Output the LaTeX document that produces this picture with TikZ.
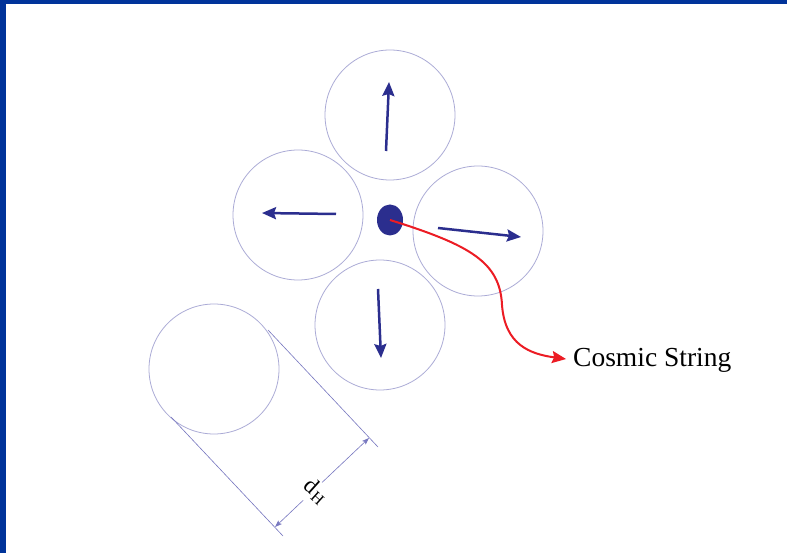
\documentclass[tikz,border=0pt]{standalone}
\usepackage{fontspec}
\setmainfont{Liberation Serif}
\usetikzlibrary{arrows.meta,shapes.geometric,calc}
\definecolor{frame}{HTML}{00339A}
\definecolor{ring}{HTML}{ABABD6}
\definecolor{navy}{HTML}{2B2E8E}
\definecolor{strred}{HTML}{EC1C24}
\definecolor{dimc}{HTML}{7777C0}
\tikzset{
  cell/.style={circle, draw=ring, line width=0.8pt, minimum size=130pt, inner sep=0pt},
  vec/.style={draw=navy, line width=2.5pt, -{Stealth[length=14pt,width=12pt,inset=2pt]}},
  dimline/.style={draw=dimc, line width=0.6pt},
  dimarrow/.style={draw=dimc, line width=0.6pt, -{Stealth[length=7pt,width=5pt,inset=1.5pt]}},
}
\begin{document}
\begin{tikzpicture}[x=1pt,y=-1pt]
\useasboundingbox (0,0) rectangle (787,553);
\fill[white] (0,0) rectangle (787,553);
\fill[frame] (0,0) rectangle (787,4);
\fill[frame] (0,0) rectangle (6,553);

% cells
\node[cell] (top) at (390,115) {};
\node[cell] (left) at (298,215) {};
\node[cell] (right) at (478,231) {};
\node[cell] (bottom) at (380,325) {};
\node[cell] (horizon) at (214,369) {};

% string
\node[ellipse, fill=navy, minimum width=26pt, minimum height=31pt, inner sep=0pt] (dot) at (390,220) {};
\node[anchor=west, font=\fontsize{27.5}{30}\selectfont, inner sep=0pt] (label) at (573,360) {Cosmic String};

% velocity arrows
\coordinate (ta) at (386,151); \coordinate (tb) at (389,82);
\coordinate (la) at (336,214); \coordinate (lb) at (262,213);
\coordinate (ra) at (438,228); \coordinate (rb) at (521,237);
\coordinate (ba) at (378,289); \coordinate (bb) at (381,358);
\draw[vec] (ta) -- (tb);
\draw[vec] (la) -- (lb);
\draw[vec] (ra) -- (rb);
\draw[vec] (ba) -- (bb);

% red connector
\draw[strred, line width=2pt, shorten >=7pt, -{Stealth[length=14pt,width=12pt,inset=2pt]}]
  (dot.center) .. controls (470,245) and (500,262) .. (502,305)
  .. controls (505,345) and (530,354) .. (label.west);

% dimension
\coordinate (t1a) at (268,330); \coordinate (t1b) at (378,447);
\coordinate (t2a) at (171,417); \coordinate (t2b) at (283,536);
\draw[dimline] (t1a) -- (t1b);
\draw[dimline] (t2a) -- (t2b);
\coordinate (da) at (275,527); \coordinate (db) at (369,438);
\node[font=\fontsize{23}{25}\selectfont, rotate=-42, inner sep=1pt] (dh) at (316,491) {d\kern1pt\textsubscript{H}};
\draw[dimarrow] ($(da)!0.3!(db)$) -- (da);
\draw[dimarrow] ($(da)!0.5!(db)$) -- (db);
\end{tikzpicture}
\end{document}
